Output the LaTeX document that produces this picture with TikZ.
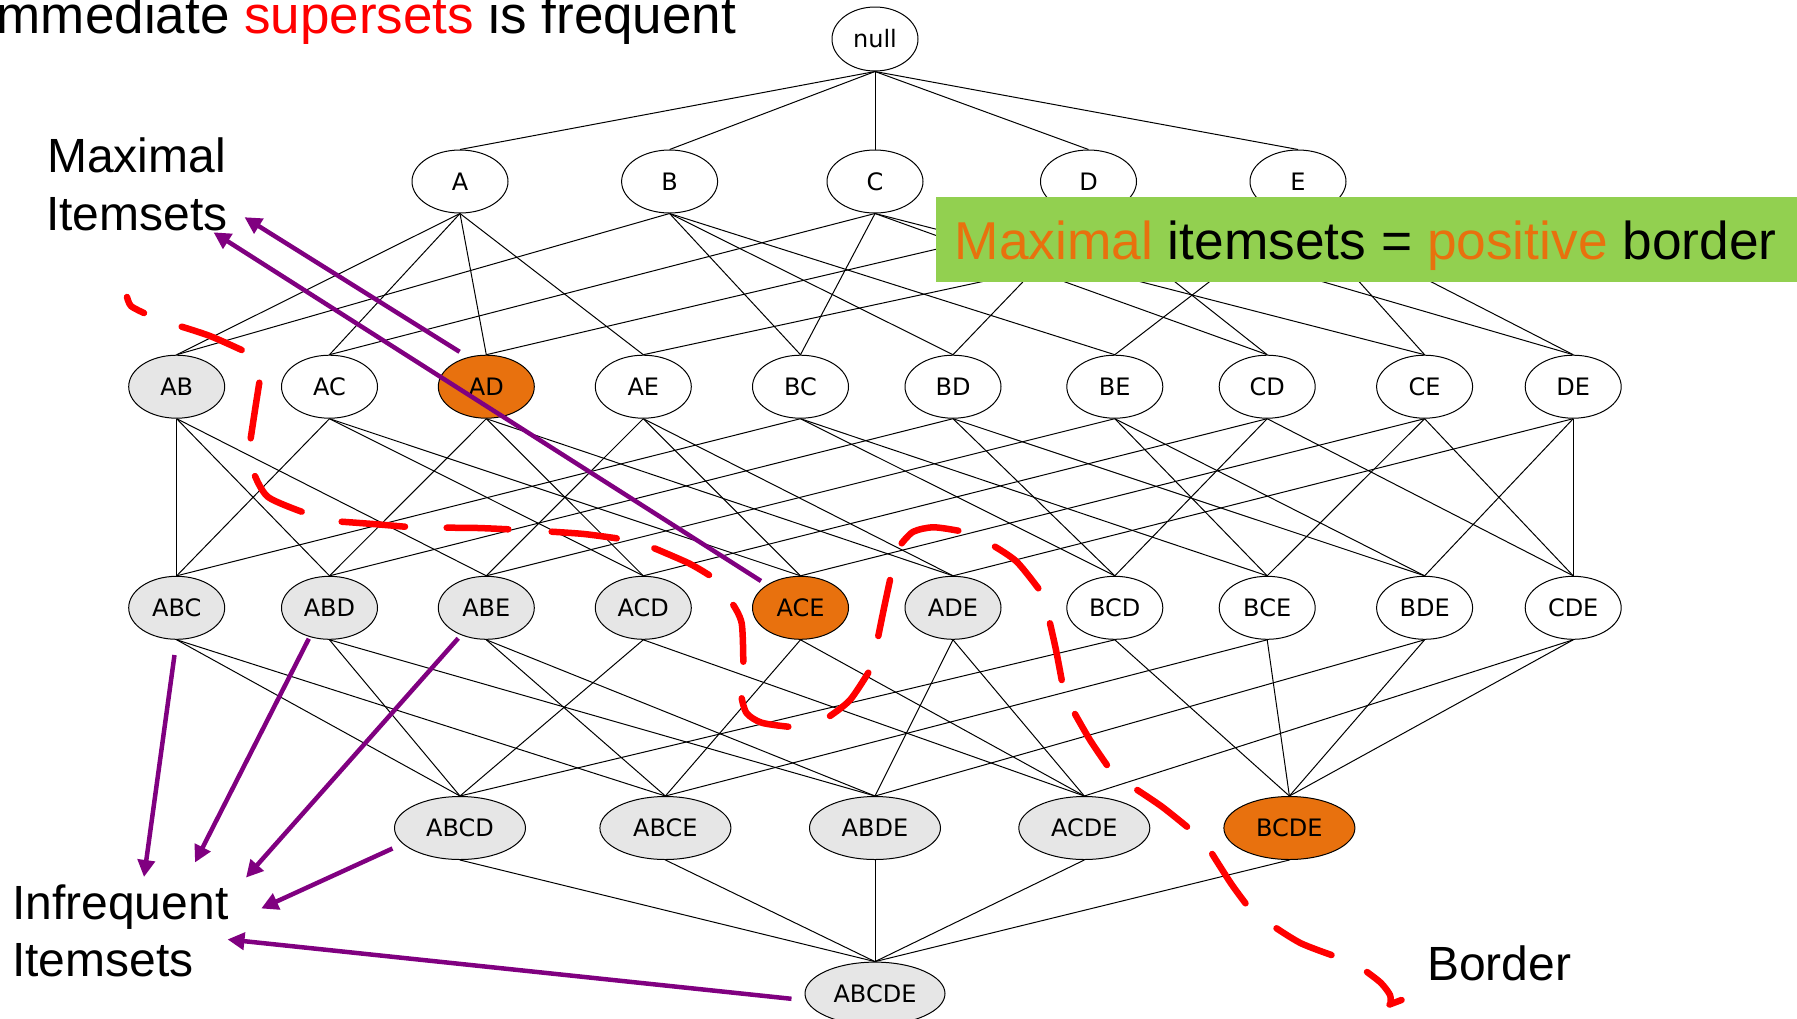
\documentclass[tikz,border=0pt]{standalone}
\usepackage{fontspec}
\setmainfont{Liberation Sans}
\newfontfamily\setfont{DejaVu Sans}
\usetikzlibrary{arrows.meta,shapes.geometric}

\definecolor{maxorange}{RGB}{232,113,14}
\definecolor{infgray}{RGB}{230,230,230}
\definecolor{boxgreen}{RGB}{146,208,80}
\definecolor{arrowpurple}{RGB}{128,0,128}
\definecolor{borderred}{RGB}{255,0,0}

\pgfdeclarelayer{links}
\pgfsetlayers{links,main}

\begin{document}
\begin{tikzpicture}[x=1pt,y=-1pt,
  itemset/.style={ellipse, draw=black, line width=1pt, inner sep=0pt,
    minimum width=96pt, minimum height=63pt, fill=white,
    font=\setfont\fontsize{24}{28}\selectfont},
  wideset/.style={itemset, minimum width=131pt},
  infreq/.style={fill=infgray},
  maxset/.style={fill=maxorange},
  lattice/.style={line width=1pt, draw=black},
  pointer/.style={draw=arrowpurple, line width=4.5pt,
    -{Triangle[length=17pt,width=17pt]}},
  bordash/.style={draw=borderred, line width=6.5pt, line cap=round, line join=round},
  biglabel/.style={inner sep=0pt, anchor=base west, font=\fontsize{48}{56}\selectfont}
]
\useasboundingbox (0,0) rectangle (1797,1018);

% ---- lattice of itemsets ----
\node[itemset, minimum width=86pt, minimum height=64pt] (nullset) at (875,39) {null};

\node[itemset] (A) at (460,181.5) {A};
\node[itemset] (B) at (669.6,181.5) {B};
\node[itemset] (C) at (875,181.5) {C};
\node[itemset] (D) at (1088.5,181.5) {D};
\node[itemset] (E) at (1298,181.5) {E};

\node[itemset, infreq] (AB) at (176.7,386.7) {AB};
\node[itemset] (AC) at (329.5,386.7) {AC};
\node[itemset, maxset] (AD) at (486.3,386.7) {AD};
\node[itemset] (AE) at (643.3,386.7) {AE};
\node[itemset] (BC) at (800.5,386.7) {BC};
\node[itemset] (BD) at (953,386.7) {BD};
\node[itemset] (BE) at (1114.8,386.7) {BE};
\node[itemset] (CD) at (1267.2,386.7) {CD};
\node[itemset] (CE) at (1424.6,386.7) {CE};
\node[itemset] (DE) at (1573.2,386.7) {DE};

\node[itemset, infreq] (ABC) at (176.7,607.8) {ABC};
\node[itemset, infreq] (ABD) at (329.5,607.8) {ABD};
\node[itemset, infreq] (ABE) at (486.3,607.8) {ABE};
\node[itemset, infreq] (ACD) at (643.3,607.8) {ACD};
\node[itemset, maxset] (ACE) at (800.5,607.8) {ACE};
\node[itemset, infreq] (ADE) at (953,607.8) {ADE};
\node[itemset] (BCD) at (1114.8,607.8) {BCD};
\node[itemset] (BCE) at (1267.2,607.8) {BCE};
\node[itemset] (BDE) at (1424.6,607.8) {BDE};
\node[itemset] (CDE) at (1573.2,607.8) {CDE};

\node[wideset, infreq] (ABCD) at (460,828) {ABCD};
\node[wideset, infreq] (ABCE) at (665.4,828) {ABCE};
\node[wideset, infreq] (ABDE) at (875,828) {ABDE};
\node[wideset, infreq] (ACDE) at (1084.3,828) {ACDE};
\node[wideset, maxset] (BCDE) at (1289.4,828) {BCDE};

\node[wideset, infreq, minimum width=140pt] (ABCDE) at (875,993.6) {ABCDE};

% ---- subset links, kept behind the itemsets ----
\begin{pgfonlayer}{links}
\foreach \p/\c in {
  nullset/A, nullset/B, nullset/C, nullset/D, nullset/E,
  A/AB, A/AC, A/AD, A/AE, B/AB, B/BC, B/BD, B/BE,
  C/AC, C/BC, C/CD, C/CE, D/AD, D/BD, D/CD, D/DE,
  E/AE, E/BE, E/CE, E/DE,
  AB/ABC, AB/ABD, AB/ABE, AC/ABC, AC/ACD, AC/ACE,
  AD/ABD, AD/ACD, AD/ADE, AE/ABE, AE/ACE, AE/ADE,
  BC/ABC, BC/BCD, BC/BCE, BD/ABD, BD/BCD, BD/BDE,
  BE/ABE, BE/BCE, BE/BDE, CD/ACD, CD/BCD, CD/CDE,
  CE/ACE, CE/BCE, CE/CDE, DE/ADE, DE/BDE, DE/CDE,
  ABC/ABCD, ABC/ABCE, ABD/ABCD, ABD/ABDE, ABE/ABCE, ABE/ABDE,
  ACD/ABCD, ACD/ACDE, ACE/ABCE, ACE/ACDE, ADE/ABDE, ADE/ACDE,
  BCD/ABCD, BCD/BCDE, BCE/ABCE, BCE/BCDE, BDE/ABDE, BDE/BCDE,
  CDE/ACDE, CDE/BCDE,
  ABCD/ABCDE, ABCE/ABCDE, ABDE/ABCDE, ACDE/ABCDE, BCDE/ABCDE}
  \draw[lattice] (\p.south) -- (\c.north);
\end{pgfonlayer}

% ---- positive border banner ----
\node[fill=boxgreen, anchor=north west, minimum width=870pt, minimum height=85pt,
  inner sep=0pt] (posbox) at (936,197) {};
\node[inner sep=0pt, anchor=base west, font=\fontsize{53.3}{60}\selectfont]
  (postext) at (954.4,259)
  {\textcolor{maxorange}{Maximal} itemsets = \textcolor{maxorange}{positive} border};

% ---- headline ----
\node[inner sep=0pt, anchor=base west, font=\fontsize{53}{60}\selectfont]
  (headline) at (-3.4,33.3) {mmediate \textcolor{borderred}{supersets} is frequent};

% ---- side labels ----
\node[biglabel] (maxlbla) at (47,172.7) {Maximal};
\node[biglabel] (maxlblb) at (46,230) {Itemsets};
\node[biglabel] (inflbla) at (12,919.3) {Infrequent};
\node[biglabel] (inflblb) at (12,976.7) {Itemsets};
\node[biglabel] (bordlbl) at (1427,980.7) {Border};

% ---- pointers ----
\coordinate (m1s) at (459.6,351.8);  \coordinate (m1e) at (244.5,217.2);
\coordinate (m2s) at (761,581);      \coordinate (m2e) at (213.5,232.3);
\coordinate (i1s) at (174.5,655);    \coordinate (i1e) at (144,877);
\coordinate (i2s) at (308.8,638.7);  \coordinate (i2e) at (195,862.5);
\coordinate (i3s) at (458.2,638.3);  \coordinate (i3e) at (246,877.6);
\coordinate (i4s) at (392.5,848.5);  \coordinate (i4e) at (261.2,908.5);
\coordinate (i5s) at (791.5,998.8);  \coordinate (i5e) at (227.5,939.4);
\foreach \s/\e in {m1s/m1e, m2s/m2e, i1s/i1e, i2s/i2e, i3s/i3e, i4s/i4e, i5s/i5e}
  \draw[pointer] (\s) -- (\e);

% ---- hand-drawn border, dash by dash ----
\draw[bordash] plot[smooth] coordinates {(127,297) (131,306) (144,313)};
\draw[bordash] plot[smooth] coordinates {(181.7,326.7) (210,336) (241.7,350)};
\draw[bordash] plot[smooth] coordinates {(259.3,382.7) (255,410) (250.7,438.3)};
\draw[bordash] plot[smooth] coordinates {(255,476) (268,497) (301.7,511.7)};
\draw[bordash] plot[smooth] coordinates {(341.7,521.7) (373,524) (405,526.7)};
\draw[bordash] plot[smooth] coordinates {(446.7,527.7) (478,528) (508.3,529.3)};
\draw[bordash] plot[smooth] coordinates {(551.7,531.7) (584,534) (616.7,538.3)};
\draw[bordash] plot[smooth] coordinates {(654.4,548.3) (688.9,563.3) (709,575)};
\draw[bordash] plot[smooth] coordinates {(733.3,605) (741.7,623.3) (743.3,661.7)};
\draw[bordash] plot[smooth] coordinates {(741.7,698.3) (746.7,713.3) (761.7,722.7) (788.3,726.7)};
\draw[bordash] plot[smooth] coordinates {(830,716) (850,700) (868.3,672.7)};
\draw[bordash] plot[smooth] coordinates {(878.3,636) (884,608) (890,580)};
\draw[bordash] plot[smooth] coordinates {(901.7,543.3) (913.3,531.7) (933.3,527.3) (958.3,530.7)};
\draw[bordash] plot[smooth] coordinates {(995,546.7) (1016.7,561.7) (1038.3,588.3)};
\draw[bordash] plot[smooth] coordinates {(1050,623.3) (1056,650) (1061.7,680)};
\draw[bordash] plot[smooth] coordinates {(1075,714) (1090,740) (1106.9,765)};
\draw[bordash] plot[smooth] coordinates {(1137.3,790) (1162,806.7) (1187,826.7)};
\draw[bordash] plot[smooth] coordinates {(1212.2,854) (1230.9,883.3) (1245.5,903.3)};
\draw[bordash] plot[smooth] coordinates {(1276.5,928.3) (1301,943.3) (1331.5,955)};
\draw[bordash] plot[smooth] coordinates {(1367,972) (1381,983) (1390,995) (1390.5,1004)};
\draw[bordash] (1389.5,1004.5) -- (1401.5,1000);
\end{tikzpicture}
\end{document}
